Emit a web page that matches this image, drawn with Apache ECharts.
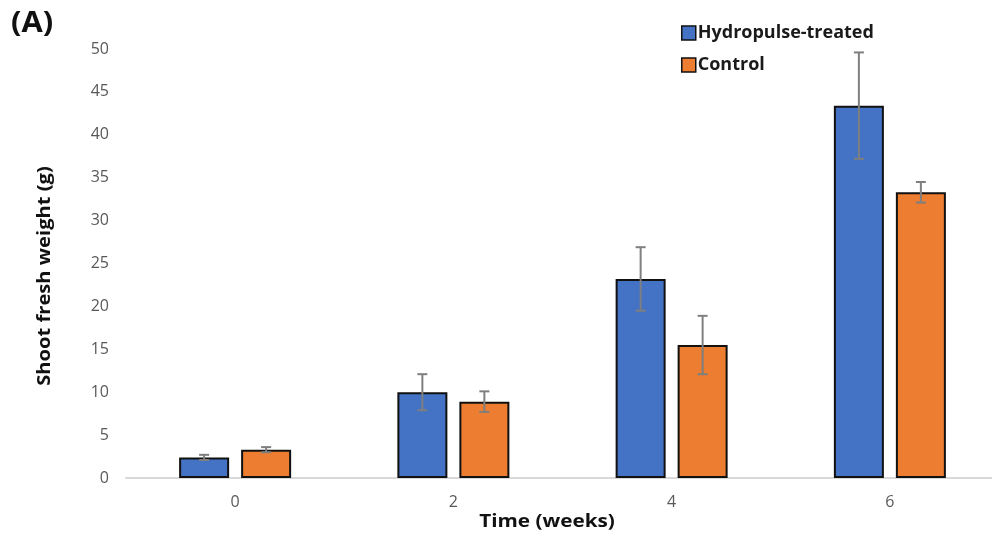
<!DOCTYPE html>
<html>
<head>
<meta charset="utf-8">
<script src="https://cdn.jsdelivr.net/npm/echarts@6/dist/echarts.min.js"></script>
<style>
  html, body { margin: 0; padding: 0; background: #fff; }
  #chart { width: 992px; height: 536px; }
</style>
</head>
<body>
<div id="chart"></div>
<script>
const weeks = ['0', '2', '4', '6']
const hydro = [2.4, 10.0, 23.2, 43.4]
const hydroErr = [0.3, 2.1, 3.7, 6.2]
const control = [3.3, 8.9, 15.5, 33.3]
const controlErr = [0.3, 1.2, 3.4, 1.2]
const yTicks = [0, 5, 10, 15, 20, 25, 30, 35, 40, 45, 50]

const chart = echarts.init(document.getElementById('chart'))
const boldFont = '"Open Sans", "Noto Sans", sans-serif'

// error bar drawn around a bar, shifted by the bar's offset
function errorBar(shift) {
  return function (params, api) {
    const i = api.value(0)
    const v = api.value(1)
    const e = api.value(2)
    const hi = api.coord([i, v + e])
    const lo = api.coord([i, v - e])
    const x = hi[0] + shift
    const cap = 5
    const style = { stroke: '#7f7f7f', lineWidth: 2 }
    return {
      type: 'group',
      children: [
        { type: 'line', shape: { x1: x, y1: hi[1], x2: x, y2: lo[1] }, style },
        { type: 'line', shape: { x1: x - cap, y1: hi[1], x2: x + cap, y2: hi[1] }, style },
        { type: 'line', shape: { x1: x - cap, y1: lo[1], x2: x + cap, y2: lo[1] }, style }
      ]
    }
  }
}

chart.setOption({
  animation: false,
  textStyle: { fontFamily: boldFont },
  graphic: [
    {
      type: 'text', x: 11, y: 10, scaleX: 1.1,
      style: { text: '(A)', font: 'bold 28px ' + boldFont, fill: '#111' }
    },
    {
      type: 'text', x: 547, y: 522, scaleX: 1.15,
      style: {
        text: 'Time (weeks)', font: 'bold 18px ' + boldFont, fill: '#111',
        align: 'center', verticalAlign: 'middle'
      }
    },
    {
      type: 'text', x: 45, y: 276, rotation: Math.PI / 2, scaleX: 1.12,
      style: {
        text: 'Shoot fresh weight (g)', font: 'bold 18px ' + boldFont, fill: '#111',
        align: 'center', verticalAlign: 'middle'
      }
    }
  ],
  legend: {
    left: 676,
    top: 19,
    orient: 'vertical',
    itemGap: 14,
    itemWidth: 14,
    itemHeight: 14,
    icon: 'rect',
    itemStyle: { borderColor: '#111', borderWidth: 1.5 },
    textStyle: { fontSize: 18, fontWeight: 'bold', color: '#1a1a1a', padding: [0, 0, 0, -3] },
    data: ['Hydropulse-treated', 'Control']
  },
  grid: { left: 126, top: 49, width: 873, bottom: 58, outerBoundsMode: 'none' },
  xAxis: {
    type: 'category',
    data: weeks,
    axisLine: { lineStyle: { color: '#d9d9d9', width: 2 } },
    axisTick: { show: false },
    axisLabel: { color: '#595959', fontSize: 16, margin: 16 }
  },
  yAxis: {
    type: 'value',
    min: yTicks[0],
    max: yTicks[yTicks.length - 1],
    interval: 5,
    axisLine: { show: false },
    axisTick: { show: false },
    splitLine: { show: false },
    axisLabel: { color: '#595959', fontSize: 16, margin: 17 }
  },
  series: [
    {
      name: 'Hydropulse-treated',
      type: 'bar',
      data: hydro,
      barWidth: 50,
      barGap: '24%',
      itemStyle: { color: '#4472c4', borderColor: '#111', borderWidth: 2 }
    },
    {
      name: 'Control',
      type: 'bar',
      data: control,
      barWidth: 50,
      itemStyle: { color: '#ed7d31', borderColor: '#111', borderWidth: 2 }
    },
    {
      type: 'custom',
      renderItem: errorBar(-31),
      data: hydro.map((v, i) => [i, v, hydroErr[i]]),
      encode: { x: 0, y: 1 },
      z: 10,
      silent: true
    },
    {
      type: 'custom',
      renderItem: errorBar(31),
      data: control.map((v, i) => [i, v, controlErr[i]]),
      encode: { x: 0, y: 1 },
      z: 10,
      silent: true
    }
  ]
})
</script>
</body>
</html>
